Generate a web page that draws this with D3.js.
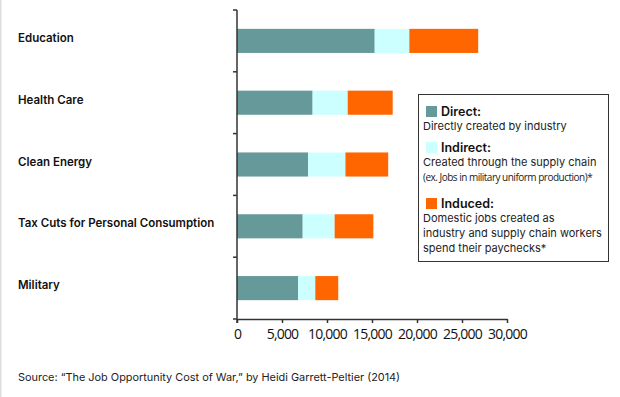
<!DOCTYPE html>
<html>
<head>
<meta charset="utf-8">
<script src="https://cdn.jsdelivr.net/npm/d3@7"></script>
<style>
  body { margin: 0; background: #fff; }
  svg { display: block; }
  .cat { font-family: Inter, "Open Sans", sans-serif; font-weight: 600; font-size: 11.5px; fill: #111; }
  .tick text { font-family: "Open Sans", sans-serif; font-size: 14px; fill: #111; letter-spacing: -0.8px; }
  .lg-head { font-family: Inter, sans-serif; font-weight: 600; font-size: 12.5px; fill: #111; }
  .lg-text { font-family: Inter, sans-serif; font-size: 11px; fill: #222; }
  .lg-small { font-family: "Open Sans", sans-serif; font-size: 10px; fill: #222; letter-spacing: -0.5px; }
  .source { font-family: Inter, sans-serif; font-size: 10.9px; fill: #222; }
</style>
</head>
<body>
<div id="chart"></div>
<script>
// data (jobs per $1 million, approx)
const categories = ["Education", "Health Care", "Clean Energy", "Tax Cuts for Personal Consumption", "Military"];
const direct   = [15300, 8400, 7900, 7300, 6800];
const indirect = [3850, 3900, 4150, 3550, 1900];
const induced  = [7650, 5000, 4750, 4300, 2550];
const xTicks = [0, 5000, 10000, 15000, 20000, 25000, 30000];

const seriesNames = ["Direct", "Indirect", "Induced"];
const colors = ["#669999", "#ccffff", "#ff6600"];
const legendText = [
  ["Directly created by industry"],
  ["Created through the supply chain", "(ex. Jobs in military uniform production)*"],
  ["Domestic jobs created as", "industry and supply chain workers", "spend their paychecks*"]
];

const W = 620, H = 397;
const svg = d3.select("#chart").append("svg")
  .attr("width", W).attr("height", H);

// thin grey frame on the left
svg.append("rect").attr("x", 0).attr("y", 0).attr("width", 1.5).attr("height", H).attr("fill", "#ddd");

const x = d3.scaleLinear().domain([0, 30000]).range([237, 507]);
const y = d3.scaleBand().domain(categories).range([10, 319]).paddingInner(0).paddingOuter(0);

// stacked data
const rows = categories.map((c, i) => ({ cat: c, Direct: direct[i], Indirect: indirect[i], Induced: induced[i] }));
const stack = d3.stack().keys(seriesNames)(rows);

const barH = y.bandwidth() * 0.39;
svg.append("g").selectAll("g")
  .data(stack)
  .enter().append("g")
    .attr("fill", (d, i) => colors[i])
  .selectAll("rect")
  .data(d => d)
  .enter().append("rect")
    .attr("x", d => x(d[0]))
    .attr("y", d => y(d.data.cat) + (y.bandwidth() - barH) / 2)
    .attr("width", d => x(d[1]) - x(d[0]))
    .attr("height", barH);

// x axis
svg.append("g")
  .attr("transform", "translate(0,319)")
  .call(d3.axisBottom(x).tickValues(xTicks).tickFormat(d3.format(",")).tickSize(4).tickSizeOuter(0))
  .call(g => g.select(".domain").attr("stroke", "#333").attr("stroke-width", 1.5))
  .call(g => g.selectAll(".tick line").attr("stroke", "#333").attr("stroke-width", 1.5))
  .call(g => g.selectAll(".tick text").attr("dy", "0.95em"));

// y axis: line with ticks at band boundaries
const yBounds = categories.map(c => y(c)).concat([y.range()[1]]);
const yAxis = svg.append("g");
yAxis.append("line")
  .attr("x1", x(0)).attr("x2", x(0))
  .attr("y1", y.range()[0]).attr("y2", y.range()[1] + 4)
  .attr("stroke", "#333").attr("stroke-width", 1.5);
yAxis.selectAll("line.yt")
  .data(yBounds)
  .enter().append("line")
    .attr("class", "yt")
    .attr("x1", x(0) - 4).attr("x2", x(0))
    .attr("y1", d => d).attr("y2", d => d)
    .attr("stroke", "#333").attr("stroke-width", 1.5);

// category labels
svg.append("g").selectAll("text")
  .data(categories)
  .enter().append("text")
    .attr("class", "cat")
    .attr("x", 18)
    .attr("y", d => y(d) + y.bandwidth() / 2 - 3)
    .attr("dy", "0.35em")
    .text(d => d);

// legend
const lg = svg.append("g");
lg.append("rect")
  .attr("x", 418.5).attr("y", 94.5).attr("width", 190).attr("height", 167)
  .attr("fill", "#fff").attr("stroke", "#333").attr("stroke-width", 1);

const headY = [116, 152, 208];
seriesNames.forEach((s, i) => {
  lg.append("rect")
    .attr("x", 426).attr("y", headY[i] - 10).attr("width", 11).attr("height", 11)
    .attr("fill", colors[i]);
  lg.append("text").attr("class", "lg-head")
    .attr("x", 441).attr("y", headY[i]).text(s + ":");
  legendText[i].forEach((t, j) => {
    lg.append("text")
      .attr("class", t.startsWith("(") ? "lg-small" : "lg-text")
      .attr("x", 423)
      .attr("y", headY[i] + 14 + j * 15)
      .text(t);
  });
});

// source
svg.append("text").attr("class", "source")
  .attr("x", 18).attr("y", 381)
  .text("Source: \u201CThe Job Opportunity Cost of War,\u201D by Heidi Garrett-Peltier (2014)");
</script>
</body>
</html>
